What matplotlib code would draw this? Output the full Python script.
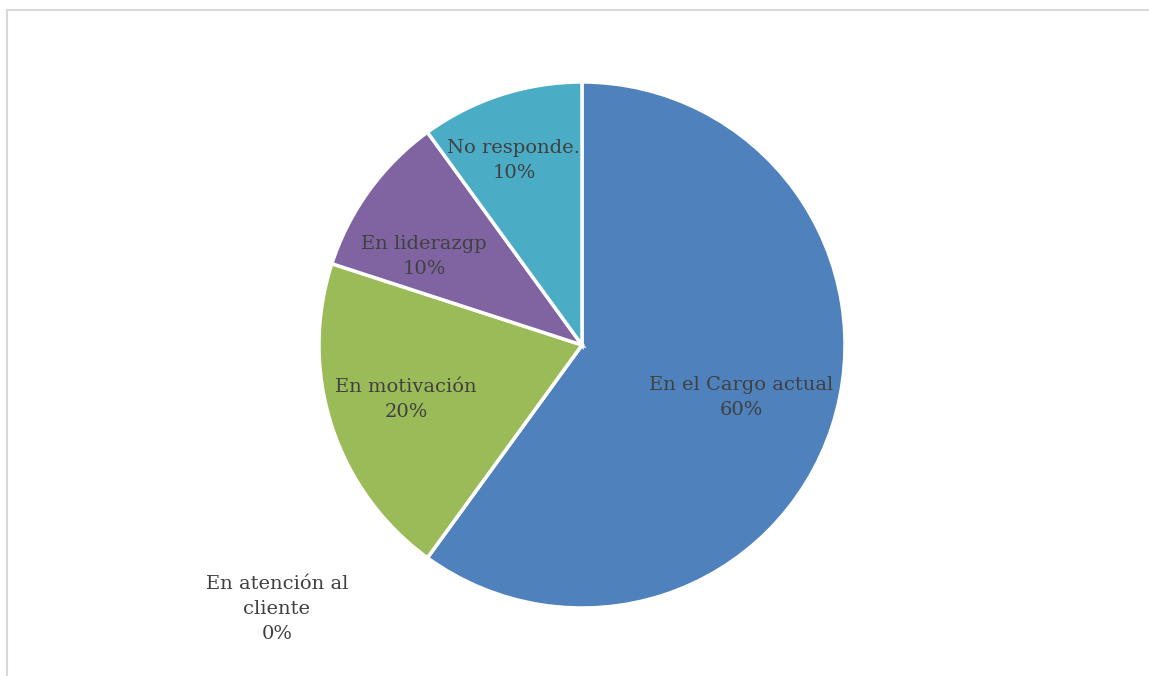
import matplotlib
matplotlib.use("Agg")
import matplotlib.pyplot as plt
from matplotlib.patches import Rectangle

categories = ["En el Cargo actual", "En atención al\ncliente", "En motivación", "En liderazgp", "No responde."]
values = [60, 0, 20, 10, 10]
colors = ["#4F81BD", "#C0504D", "#9BBB59", "#8064A2", "#4BACC6"]
# label centres in pie-radius units (Excel best-fit placement)
label_x = [0.605, -1.16, -0.669, -0.601, -0.259]
label_y = [-0.198, -1.004, -0.209, 0.338, 0.70]

W, H = 1149, 676
fig = plt.figure(figsize=(W / 100, H / 100), dpi=100)
fig.patches.append(Rectangle((6.5 / W, -0.1), 1.2, 1 - 9.5 / H + 0.1, transform=fig.transFigure,
                             fill=False, edgecolor="#D9D9D9", linewidth=1.5))
cx, cy, r = 582, 345, 263
ax = fig.add_axes([(cx - r) / W, (H - cy - r) / H, 2 * r / W, 2 * r / H])
wedges, _ = ax.pie(values, colors=colors, startangle=90, counterclock=False,
                   wedgeprops=dict(edgecolor="white", linewidth=2.5))
ax.set_xlim(-1, 1)
ax.set_ylim(-1, 1)
ax.set_aspect("equal")
ax.axis("off")

font = dict(family="DejaVu Serif", fontsize=14, color="#404040", ha="center", va="center",
            linespacing=1.5)
total = sum(values)
for cat, v, lx, ly in zip(categories, values, label_x, label_y):
    ax.text(lx, ly, f"{cat}\n{v / total:.0%}", **font)

fig.savefig("out.png", dpi=100)
